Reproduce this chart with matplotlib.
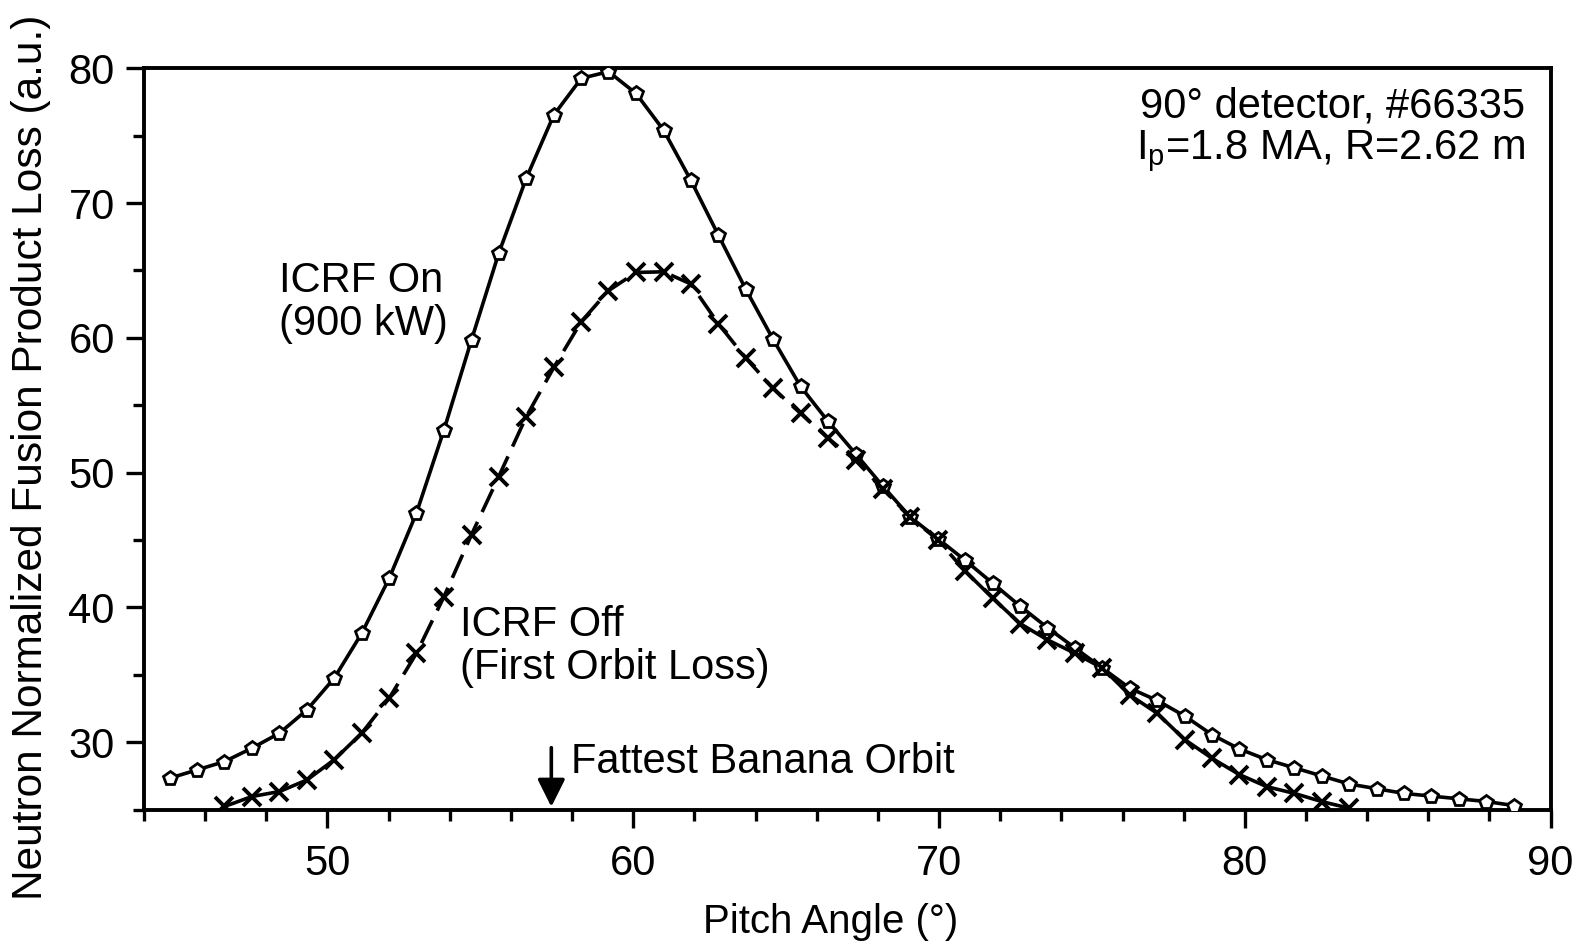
import numpy as np
import matplotlib
matplotlib.use('Agg')
from matplotlib import pyplot as plt
from matplotlib.ticker import MultipleLocator

plt.rcParams['font.family'] = ['Liberation Sans', 'DejaVu Sans']
plt.rcParams['mathtext.fontset'] = 'custom'
plt.rcParams['mathtext.rm'] = 'Liberation Sans'

# pitch angle grid (deg)
pitch = [44.84, 45.74, 46.63, 47.53, 48.43, 49.33, 50.22, 51.12, 52.02, 52.91,
         53.81, 54.71, 55.60, 56.50, 57.40, 58.30, 59.19, 60.09, 60.99, 61.88,
         62.78, 63.68, 64.57, 65.47, 66.37, 67.27, 68.16, 69.06, 69.96, 70.85,
         71.75, 72.65, 73.54, 74.44, 75.34, 76.24, 77.13, 78.03, 78.93, 79.82,
         80.72, 81.62, 82.51, 83.41, 84.31, 85.21, 86.10, 87.00, 87.90, 88.79]

icrf_on = [27.33, 27.95, 28.56, 29.56, 30.67, 32.40, 34.75, 38.08, 42.17, 47.0,
           53.17, 59.85, 66.27, 71.83, 76.53, 79.25, 79.75, 78.13, 75.41, 71.7,
           67.63, 63.6, 59.9, 56.4, 53.8, 51.4, 49.0, 46.7, 45.1, 43.5,
           41.8, 40.1, 38.5, 37.0, 35.5, 34.0, 33.1, 31.95, 30.55, 29.5,
           28.7, 28.1, 27.5, 26.9, 26.55, 26.2, 26.0, 25.8, 25.6, 25.3]

# ICRF off starts at the 3rd pitch value
icrf_off = [25.23, 25.97, 26.34, 27.2, 28.7, 30.67, 33.27, 36.6, 40.8, 45.4,
            49.7, 54.15, 57.8, 61.2, 63.5, 64.85, 64.9, 64.0, 61.05, 58.5,
            56.25, 54.4, 52.55, 50.9, 48.8, 46.7, 45.0, 42.7, 40.7, 38.8,
            37.6, 36.6, 35.5, 33.5, 32.15, 30.2, 28.8, 27.6, 26.7, 26.2,
            25.6, 25.1]
pitch_off = pitch[2:2 + len(icrf_off)]

fig = plt.figure(figsize=[15.93, 9.48], dpi=100)
ax = fig.add_axes([0.0904, 0.146, 0.883, 0.782])

ax.plot(pitch, icrf_on, color='k', lw=2.6, marker='p', ms=10, mew=2,
        markerfacecolor='white', zorder=3)

# off curve: solid at the ends, dashed through the middle
ax.plot(pitch_off[:6], icrf_off[:6], color='k', lw=2.6, zorder=2)
ax.plot(pitch_off[5:28], icrf_off[5:28], color='k', lw=2.6, dashes=[7, 3], zorder=2)
ax.plot(pitch_off[27:], icrf_off[27:], color='k', lw=2.6, zorder=2)
ax.plot(pitch_off, icrf_off, linestyle='none', color='k', marker='x', ms=13, mew=2.8, zorder=4)

ax.set_xlim(44, 90)
ax.set_ylim(25, 80)
ax.xaxis.set_minor_locator(MultipleLocator(2))
ax.yaxis.set_minor_locator(MultipleLocator(5))
ax.set_xticks([50, 60, 70, 80, 90])
ax.set_yticks([30, 40, 50, 60, 70, 80])

for s in ax.spines.values():
    s.set_linewidth(2.8)
ax.tick_params(which='major', direction='out', length=13, width=2.4, labelsize=30)
ax.tick_params(axis='y', which='major', pad=8)
ax.tick_params(axis='x', which='major', pad=12)
ax.tick_params(which='minor', direction='out', length=8, width=2.4)

ax.set_xlabel('Pitch Angle (°)', fontsize=29, va='center')
ax.xaxis.set_label_coords(0.488, -0.151)
ax.set_ylabel('Neutron Normalized Fusion Product Loss (a.u.)', fontsize=30.5, va='center')
ax.yaxis.set_label_coords(-0.0805, 0.475)

ax.text(48.4, 62.6, 'ICRF On\n(900 kW)', fontsize=30, ha='left', va='center',
        linespacing=1.1)
ax.text(54.35, 37.1, 'ICRF Off\n(First Orbit Loss)', fontsize=30, ha='left', va='center',
        linespacing=1.1)
ax.text(0.982, 0.975, '90° detector, #66335\nI$_\\mathrm{p}$=1.8 MA, R=2.62 m',
        transform=ax.transAxes, fontsize=30, ha='right', va='top', linespacing=1.05)

ax.annotate('', xy=(57.32, 25), xytext=(57.32, 29.8),
            arrowprops=dict(arrowstyle='-|>', color='k', lw=2.6, mutation_scale=42))
ax.text(57.95, 28.5, 'Fattest Banana Orbit', fontsize=30, ha='left', va='center')

plt.savefig('out.png', dpi=100)
